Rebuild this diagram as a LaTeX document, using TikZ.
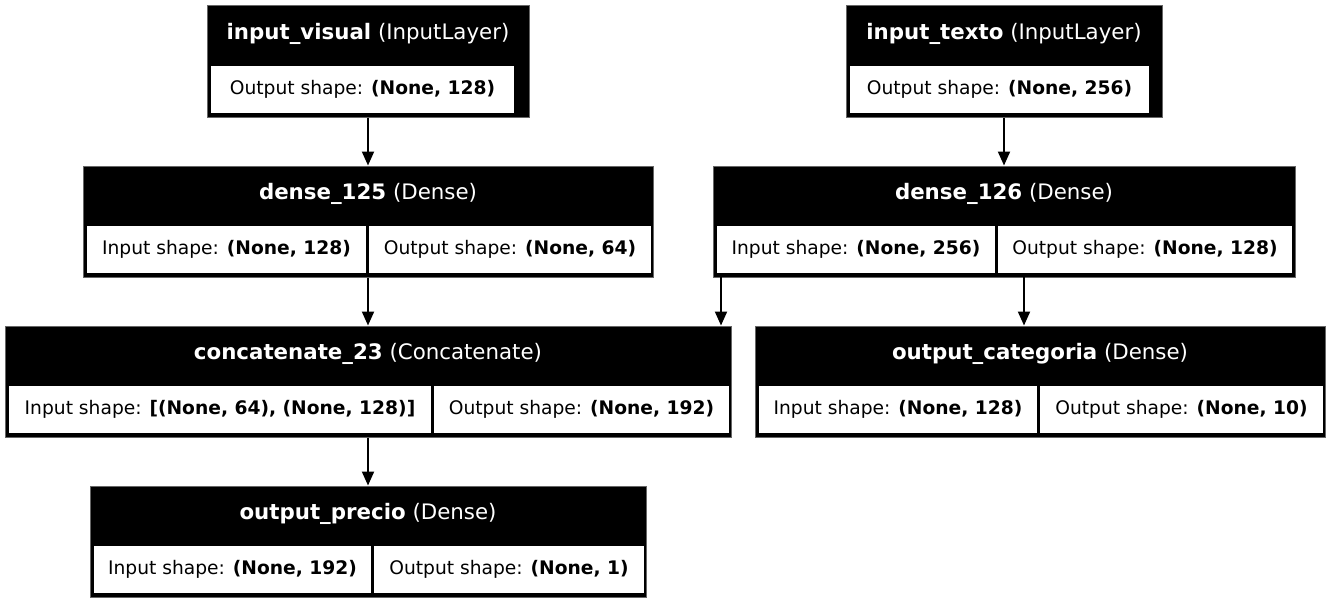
\documentclass[tikz,border=0pt]{standalone}
\usepackage{fontspec}
\setmainfont{DejaVu Sans}
\usetikzlibrary{arrows.meta,fit}
\tikzset{
  layerbox/.style={draw=black!60, fill=black, line width=1pt, inner sep=0pt},
  cellbox/.style={fill=white, inner sep=0pt},
  celltext/.style={text=black, inner sep=0pt},
  headtext/.style={text=white, inner sep=0pt, font=\fontsize{21.33}{25}\selectfont},
  flow/.style={-{Triangle[length=14pt,width=12pt]}, line width=2pt},
}
\begin{document}
\begin{tikzpicture}[x=1pt, y=-1pt, font=\fontsize{18.67}{22}\selectfont]
                \useasboundingbox (0,0) rectangle (1330,603);

                \node[layerbox, fit={(207,5) (529,117)}] (iv) {};
                \node[headtext] (iv-t) at (368,34) {\textbf{input\_visual} (InputLayer)};
                \node[cellbox, fit={(211,66) (514,113)}] (iv-out) {};
                \node[celltext] at (iv-out.center) {Output shape: \textbf{(None, 128)}};

                \node[layerbox, fit={(846,5) (1162,117)}] (it) {};
                \node[headtext] (it-t) at (1004,34) {\textbf{input\_texto} (InputLayer)};
                \node[cellbox, fit={(850,66) (1149,113)}] (it-out) {};
                \node[celltext] at (it-out.center) {Output shape: \textbf{(None, 256)}};

                \node[layerbox, fit={(83,166) (653,277)}] (d125) {};
                \node[headtext] (d125-t) at (368,194) {\textbf{dense\_125} (Dense)};
                \node[cellbox, fit={(87,226) (366,273)}] (d125-in) {};
                \node[celltext] at (d125-in.center) {Input shape: \textbf{(None, 128)}};
                \node[cellbox, fit={(369,226) (651,273)}] (d125-out) {};
                \node[celltext] at (d125-out.center) {Output shape: \textbf{(None, 64)}};

                \node[layerbox, fit={(713,166) (1295,277)}] (d126) {};
                \node[headtext] (d126-t) at (1004,194) {\textbf{dense\_126} (Dense)};
                \node[cellbox, fit={(717,226) (995,273)}] (d126-in) {};
                \node[celltext] at (d126-in.center) {Input shape: \textbf{(None, 256)}};
                \node[cellbox, fit={(998,226) (1292,273)}] (d126-out) {};
                \node[celltext] at (d126-out.center) {Output shape: \textbf{(None, 128)}};

                \node[layerbox, fit={(5,326) (731,437)}] (cc) {};
                \node[headtext] (cc-t) at (368,354) {\textbf{concatenate\_23} (Concatenate)};
                \node[cellbox, fit={(9,386) (431,433)}] (cc-in) {};
                \node[celltext] at (cc-in.center) {Input shape: \textbf{[(None, 64), (None, 128)]}};
                \node[cellbox, fit={(434,386) (729,433)}] (cc-out) {};
                \node[celltext] at (cc-out.center) {Output shape: \textbf{(None, 192)}};

                \node[layerbox, fit={(755,326) (1325,437)}] (ocat) {};
                \node[headtext] (ocat-t) at (1040,354) {\textbf{output\_categoria} (Dense)};
                \node[cellbox, fit={(759,386) (1037,433)}] (ocat-in) {};
                \node[celltext] at (ocat-in.center) {Input shape: \textbf{(None, 128)}};
                \node[cellbox, fit={(1040,386) (1323,433)}] (ocat-out) {};
                \node[celltext] at (ocat-out.center) {Output shape: \textbf{(None, 10)}};

                \node[layerbox, fit={(90,486) (646,597)}] (op) {};
                \node[headtext] (op-t) at (368,514) {\textbf{output\_precio} (Dense)};
                \node[cellbox, fit={(94,546) (371,593)}] (op-in) {};
                \node[celltext] at (op-in.center) {Input shape: \textbf{(None, 192)}};
                \node[cellbox, fit={(374,546) (644,593)}] (op-out) {};
                \node[celltext] at (op-out.center) {Output shape: \textbf{(None, 1)}};

                \coordinate (j1) at (721,277);
                \coordinate (j2) at (1024,277);

                \draw[flow] (iv.south) -- (d125.north);
                \draw[flow] (it.south) -- (d126.north);
                \draw[flow] (d125.south) -- (cc.north);
                \draw[flow] (j1) -- (j1 |- cc.north);
                \draw[flow] (j2) -- (j2 |- ocat.north);
                \draw[flow] (cc.south) -- (op.north);
            \end{tikzpicture}
\end{document}
